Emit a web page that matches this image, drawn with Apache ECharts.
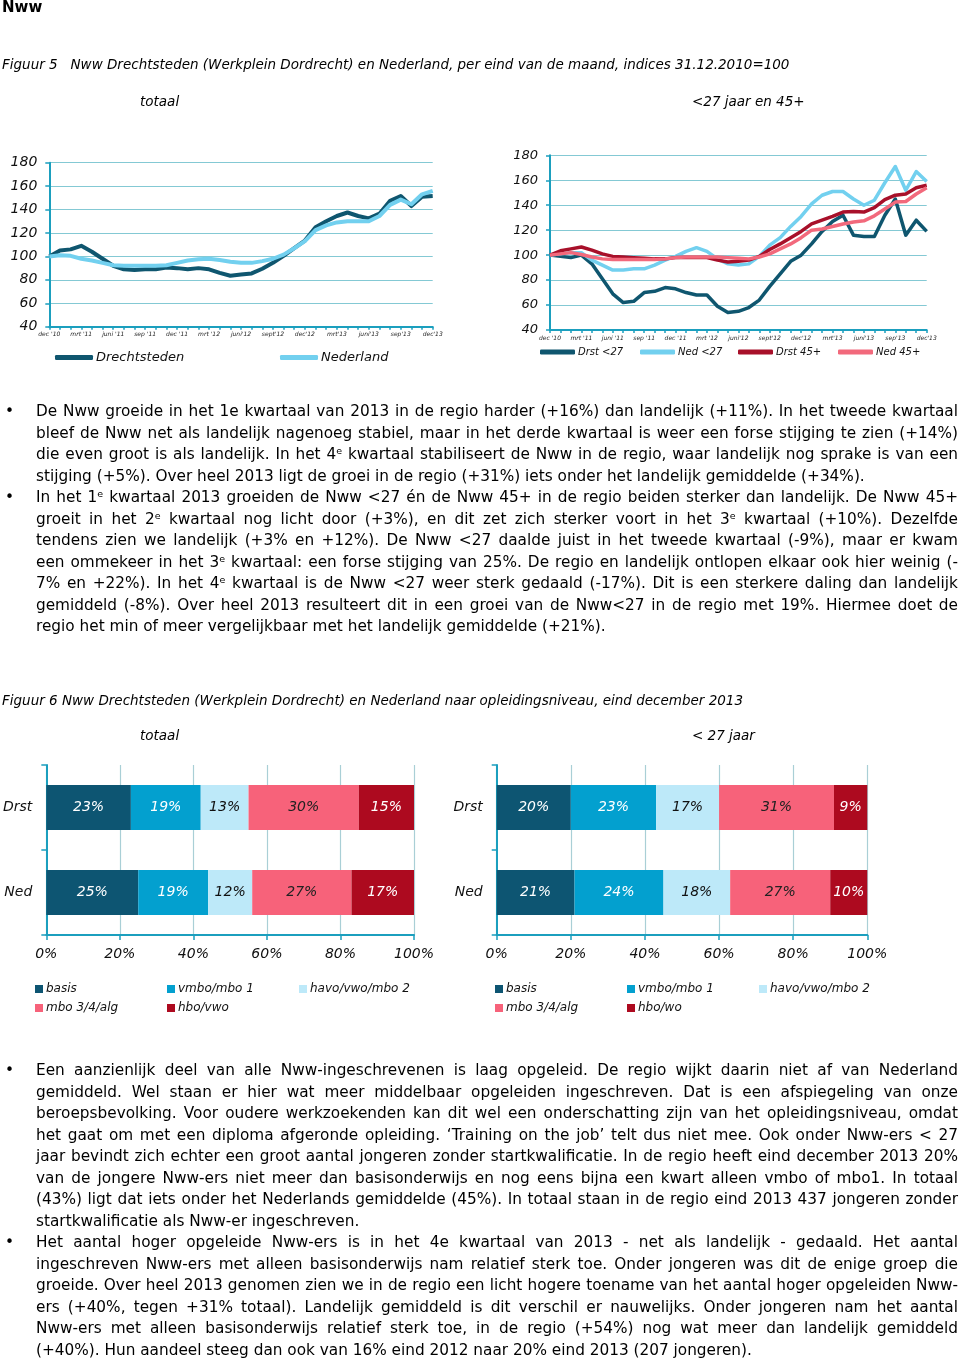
<!DOCTYPE html>
<html>
<head>
<meta charset="utf-8">
<script src="https://cdn.jsdelivr.net/npm/echarts@6/dist/echarts.min.js"></script>
<style>
  html, body { margin: 0; padding: 0; background: #fff; }
  #page { position: relative; width: 960px; height: 1361px; overflow: hidden; }
  #chart { position: absolute; left: 0; top: 0; width: 960px; height: 1361px; }
  .block { position: absolute; left: 36px; width: 922px; font-family: 'DejaVu Sans', Verdana, sans-serif; font-size: 15.3px; line-height: 21.5px; color: #000; }
  .ln { height: 21.5px; white-space: nowrap; position: relative; }
  .bul { position: absolute; left: -31px; top: 0; }
  sup { font-size: 9.5px; vertical-align: 5px; line-height: 0; }
</style>
</head>
<body>
<div id="page">
  <div id="chart"></div>
  <div class="block" style="top:401px">
    <div class="ln" data-b="1"><span class="t">De Nww groeide in het 1e kwartaal van 2013 in de regio harder (+16%) dan landelijk (+11%). In het tweede kwartaal</span></div>
    <div class="ln"><span class="t">bleef de Nww net als landelijk nagenoeg stabiel, maar in het derde kwartaal is weer een forse stijging te zien (+14%)</span></div>
    <div class="ln"><span class="t">die even groot is als landelijk. In het 4<sup>e</sup> kwartaal stabiliseert de Nww in de regio, waar landelijk nog sprake is van een</span></div>
    <div class="ln last"><span class="t">stijging (+5%). Over heel 2013 ligt de groei in de regio (+31%) iets onder het landelijk gemiddelde (+34%).</span></div>
    <div class="ln" data-b="1"><span class="t">In het 1<sup>e</sup> kwartaal 2013 groeiden de Nww &lt;27 én de Nww 45+ in de regio beiden sterker dan landelijk. De Nww 45+</span></div>
    <div class="ln"><span class="t">groeit in het 2<sup>e</sup> kwartaal nog licht door (+3%), en dit zet zich sterker voort in het 3<sup>e</sup> kwartaal (+10%). Dezelfde</span></div>
    <div class="ln"><span class="t">tendens zien we landelijk (+3% en +12%). De Nww &lt;27 daalde juist in het tweede kwartaal (-9%), maar er kwam</span></div>
    <div class="ln"><span class="t">een ommekeer in het 3<sup>e</sup> kwartaal: een forse stijging van 25%. De regio en landelijk ontlopen elkaar ook hier weinig (-</span></div>
    <div class="ln"><span class="t">7% en +22%). In het 4<sup>e</sup> kwartaal is de Nww &lt;27 weer sterk gedaald (-17%). Dit is een sterkere daling dan landelijk</span></div>
    <div class="ln"><span class="t">gemiddeld (-8%). Over heel 2013 resulteert dit in een groei van de Nww&lt;27 in de regio met 19%. Hiermee doet de</span></div>
    <div class="ln last"><span class="t">regio het min of meer vergelijkbaar met het landelijk gemiddelde (+21%).</span></div>
  </div>
  <div class="block" style="top:1060px">
    <div class="ln" data-b="1"><span class="t">Een aanzienlijk deel van alle Nww-ingeschrevenen is laag opgeleid. De regio wijkt daarin niet af van Nederland</span></div>
    <div class="ln"><span class="t">gemiddeld. Wel staan er hier wat meer middelbaar opgeleiden ingeschreven. Dat is een afspiegeling van onze</span></div>
    <div class="ln"><span class="t">beroepsbevolking. Voor oudere werkzoekenden kan dit wel een onderschatting zijn van het opleidingsniveau, omdat</span></div>
    <div class="ln"><span class="t">het gaat om met een diploma afgeronde opleiding. ‘Training on the job’ telt dus niet mee. Ook onder Nww-ers &lt; 27</span></div>
    <div class="ln"><span class="t">jaar bevindt zich echter een groot aantal jongeren zonder startkwalificatie. In de regio heeft eind december 2013 20%</span></div>
    <div class="ln"><span class="t">van de jongere Nww-ers niet meer dan basisonderwijs en nog eens bijna een kwart alleen vmbo of mbo1. In totaal</span></div>
    <div class="ln"><span class="t">(43%) ligt dat iets onder het Nederlands gemiddelde (45%). In totaal staan in de regio eind 2013 437 jongeren zonder</span></div>
    <div class="ln last"><span class="t">startkwalificatie als Nww-er ingeschreven.</span></div>
    <div class="ln" data-b="1"><span class="t">Het aantal hoger opgeleide Nww-ers is in het 4e kwartaal van 2013 - net als landelijk - gedaald. Het aantal</span></div>
    <div class="ln"><span class="t">ingeschreven Nww-ers met alleen basisonderwijs nam relatief sterk toe. Onder jongeren was dit de enige groep die</span></div>
    <div class="ln"><span class="t">groeide. Over heel 2013 genomen zien we in de regio een licht hogere toename van het aantal hoger opgeleiden Nww-</span></div>
    <div class="ln"><span class="t">ers (+40%, tegen +31% totaal). Landelijk gemiddeld is dit verschil er nauwelijks. Onder jongeren nam het aantal</span></div>
    <div class="ln"><span class="t">Nww-ers met alleen basisonderwijs relatief sterk toe, in de regio (+54%) nog wat meer dan landelijk gemiddeld</span></div>
    <div class="ln last"><span class="t">(+40%). Hun aandeel steeg dan ook van 16% eind 2012 naar 20% eind 2013 (207 jongeren).</span></div>
  </div>
</div>
<script>
// justify each text line to the full block width (last lines of paragraphs stay natural unless too long)
document.querySelectorAll('.ln').forEach(function (ln) {
  var t = ln.querySelector('.t');
  if (ln.getAttribute('data-b')) {
    var b = document.createElement('span'); b.className = 'bul'; b.textContent = '•'; ln.insertBefore(b, t);
  }
  var w = t.getBoundingClientRect().width;
  var spaces = (t.textContent.match(/ /g) || []).length;
  var target = 922;
  if (spaces > 0 && (!ln.classList.contains('last') || w > target)) {
    t.style.wordSpacing = ((target - w) / spaces) + 'px';
  }
});

// ---------- data ----------
const months = ["dec '10","jan '11","feb '11","mrt '11","apr '11","mei '11","juni '11","juli '11","aug '11","sep '11","okt '11","nov '11",
  "dec '11","jan '12","feb '12","mrt '12","apr '12","mei '12","juni'12","juli'12","aug'12","sept'12","okt'12","nov'12",
  "dec'12","jan'13","feb'13","mrt'13","apr'13","mei'13","juni'13","juli'13","aug'13","sep'13","okt'13","nov'13","dec'13"];

const drechtsteden = [100,105,106,109,104,98,92,89,88.5,89,89,90.5,90,89,90,89,86,83.5,84.5,85.5,89.5,94.5,100.5,107,113.5,125,130,134.5,137.5,134.5,132.5,136.5,147.5,151.5,143,151,151.5];
const nederland    = [100,101,100.5,98,96.5,94.5,92.5,92,92,92,92,92.5,94.5,96.5,97.5,98,97,95.5,94.5,94.5,96,98,101.5,107,113,122.5,126.5,129,130,130,130,134.5,144,148.5,144.5,153,156];

const drst27 = [100,99,98,100,93,81,69,62,63,70,71,74,73,70,68,68,59,54,55,58,64,75,85,95,100,109,119,127,132,116,115,115,132,145,116,128,119];
const ned27  = [100,101,102,102,96,92,88,88,89,89,92,96,99,103,106,103,97,93,92,93,99,108,114,123,131,141,148,151,151,145,140,144,158,171,152,167,159];
const drst45 = [100,103.5,105,106.5,104,101,99,98.5,98,97.5,97,97,98,98,98,98,96,94.5,95,96,99,104.5,109,114,119,125,128,131,134.5,135,134.5,138,144.5,148,149,154,156];
const ned45  = [100,101,102,100.5,98.5,97,96.5,96.5,96.5,96.5,96.5,97,98,98.5,98.5,98.5,98.5,98,97.5,97,98.5,101,105,109,114,120,121,123,125,126.5,127.5,131.5,137,142.5,143,149,154];

const barCategories = ['Drst', 'Ned'];
const levelsTotaal = ['basis', 'vmbo/mbo 1', 'havo/vwo/mbo 2', 'mbo 3/4/alg', 'hbo/vwo'];
const levelsJong   = ['basis', 'vmbo/mbo 1', 'havo/vwo/mbo 2', 'mbo 3/4/alg', 'hbo/wo'];
const totaalDrst = [23, 19, 13, 30, 15];
const totaalNed  = [25, 19, 12, 27, 17];
const jongDrst   = [20, 23, 17, 31, 9];
const jongNed    = [21, 24, 18, 27, 10];

// ---------- styles ----------
const FONT = "'DejaVu Sans', Verdana, sans-serif";
const AXIS = '#1b9fbe';
const GRIDC = '#84c9d4';
const BARGRID = '#a9cfd6';
const C_DARK = '#0f566f', C_LIGHT = '#72d0ef', C_RED = '#a8102a', C_PINK = '#f2697c';
const levelColors = ['#0d5572', '#03a0cf', '#bde9f9', '#f7627a', '#ad0a1f'];
const labelColors = ['#ffffff', '#ffffff', '#111111', '#222222', '#ffffff'];

function lineX(gi) {
  return {
    type: 'category', gridIndex: gi, data: months, boundaryGap: false,
    axisLine: { lineStyle: { color: AXIS, width: 2 } },
    axisTick: { show: true, interval: 0, length: 3, lineStyle: { color: AXIS, width: 1.5 } },
    axisLabel: { interval: 2, fontSize: 6, fontStyle: 'italic', color: '#222', margin: 5, fontFamily: FONT },
    splitLine: { show: false }
  };
}
function lineY(gi, fs) {
  return {
    type: 'value', gridIndex: gi, min: 40, max: 180, interval: 20,
    axisLine: { show: true, lineStyle: { color: AXIS, width: 2 } },
    axisTick: { show: true, length: 4, lineStyle: { color: AXIS, width: 1.5 } },
    axisLabel: { fontSize: fs, fontStyle: 'italic', color: '#111', margin: 12, fontFamily: FONT },
    splitLine: { show: true, lineStyle: { color: GRIDC, width: 1.2 } }
  };
}
function barX(gi) {
  return {
    type: 'value', gridIndex: gi, min: 0, max: 100, interval: 20,
    axisLine: { show: true, lineStyle: { color: AXIS, width: 2 } },
    axisTick: { show: true, length: 5, lineStyle: { color: AXIS, width: 1.5 } },
    axisLabel: { formatter: '{value}%', fontSize: 14, fontStyle: 'italic', color: '#111', margin: 12, fontFamily: FONT },
    splitLine: { show: true, lineStyle: { color: BARGRID, width: 1.2 } }
  };
}
function barY(gi) {
  return {
    type: 'category', gridIndex: gi, data: barCategories, inverse: true,
    axisLine: { show: true, lineStyle: { color: AXIS, width: 2 } },
    axisTick: { show: true, length: 5, lineStyle: { color: AXIS, width: 1.5 } },
    axisLabel: { fontSize: 14, fontStyle: 'italic', color: '#111', margin: 14, fontFamily: FONT }
  };
}
function lineSeries(name, data, color, gi, w) {
  return { type: 'line', name, data, xAxisIndex: gi, yAxisIndex: gi, symbol: 'none', smooth: false,
    lineStyle: { color, width: w, join: 'round' }, itemStyle: { color } };
}
function barSeries(names, drst, ned, gi) {
  return names.map((n, j) => ({
    type: 'bar', name: n, stack: 'g' + gi, xAxisIndex: gi, yAxisIndex: gi, barWidth: 45,
    data: [drst[j], ned[j]], itemStyle: { color: levelColors[j] },
    label: { show: true, position: 'inside', formatter: '{c}%', color: labelColors[j], fontSize: 14, fontStyle: 'italic', fontFamily: FONT }
  }));
}
function lineLegend(name, left, top, fs, w) {
  return { data: [name], left, top, padding: 0, icon: 'roundRect', itemWidth: w, itemHeight: 5, itemGap: 0,
    textStyle: { fontSize: fs, fontStyle: 'italic', color: '#111', fontFamily: FONT, padding: [0, 0, 0, -2] } };
}
function barLegend(name, left, top) {
  return { data: [name], left, top, padding: 0, icon: 'rect', itemWidth: 8, itemHeight: 8, itemGap: 0,
    textStyle: { fontSize: 12, fontStyle: 'italic', color: '#111', fontFamily: FONT, padding: [0, 0, 0, -2] } };
}
function barLegends(names, x0) {
  const cols = [x0, x0 + 132, x0 + 264];
  return names.map((n, j) => barLegend(n, cols[j % 3], j < 3 ? 983 : 1002));
}
function txt(text, x, y, size, extra) {
  return { type: 'text', x, y, silent: true,
    style: Object.assign({ text, fill: '#000', font: 'italic ' + size + 'px ' + FONT, verticalAlign: 'middle', align: 'left' }, extra || {}) };
}

const option = {
  animation: false,
  graphic: [
    txt('Nww', 2, 8, 15, { font: 'bold 15px ' + FONT }),
    txt('Figuur 5   Nww Drechtsteden (Werkplein Dordrecht) en Nederland, per eind van de maand, indices 31.12.2010=100', 2, 65, 13.5),
    txt('totaal', 140, 102, 13.5),
    txt('<27 jaar en 45+', 692, 102, 13.5),
    txt('Figuur 6 Nww Drechtsteden (Werkplein Dordrecht) en Nederland naar opleidingsniveau, eind december 2013', 2, 701, 13.5),
    txt('totaal', 140, 736, 13.5),
    txt('< 27 jaar', 692, 736, 13.5)
  ],
  grid: [
    { left: 49.3, top: 162.7, width: 383.4, height: 164 },
    { left: 550, top: 155.3, width: 376.7, height: 174.7 },
    { left: 44, top: 765, width: 370, height: 170 },
    { left: 496.7, top: 765, width: 370.6, height: 170 }
  ],
  xAxis: [lineX(0), lineX(1), barX(2), barX(3)],
  yAxis: [lineY(0, 14), lineY(1, 13), barY(2), barY(3)],
  legend: [
    lineLegend('Drechtsteden', 55, 351, 13, 38),
    lineLegend('Nederland', 280, 351, 13, 38),
    lineLegend('Drst <27', 540, 347, 10, 35),
    lineLegend('Ned <27', 640, 347, 10, 35),
    lineLegend('Drst 45+', 738, 347, 10, 35),
    lineLegend('Ned 45+', 838, 347, 10, 35),
    ...barLegends(levelsTotaal, 35),
    ...barLegends(levelsJong, 495)
  ],
  series: [
    lineSeries('Drechtsteden', drechtsteden, C_DARK, 0, 4),
    lineSeries('Nederland', nederland, C_LIGHT, 0, 4),
    lineSeries('Drst <27', drst27, C_DARK, 1, 3.5),
    lineSeries('Ned <27', ned27, C_LIGHT, 1, 3.5),
    lineSeries('Drst 45+', drst45, C_RED, 1, 3.5),
    lineSeries('Ned 45+', ned45, C_PINK, 1, 3.5),
    ...barSeries(levelsTotaal, totaalDrst, totaalNed, 2),
    ...barSeries(levelsJong, jongDrst, jongNed, 3)
  ]
};

const chart = echarts.init(document.getElementById('chart'), null, { renderer: 'canvas' });
chart.setOption(option);
</script>
</body>
</html>
